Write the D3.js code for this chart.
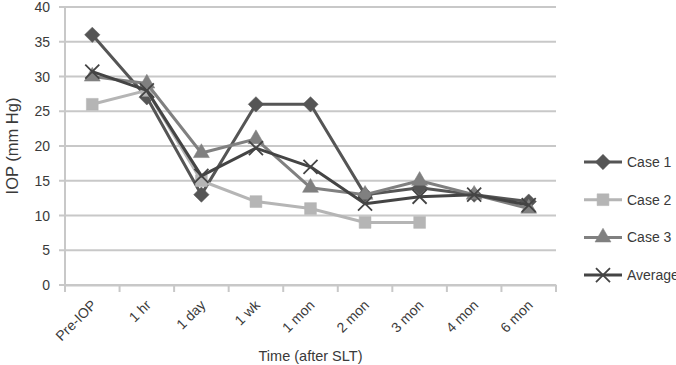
<!DOCTYPE html>
<html>
<head>
<meta charset="utf-8">
<title>IOP after SLT</title>
<style>
  body { margin: 0; background: #fff; }
  text { font-family: "Liberation Sans", Arial, sans-serif; fill: #3a3a3a; }
</style>
</head>
<body>
<script src="https://d3js.org/d3.v7.min.js"></script>
<script>
// data
var times = ["Pre-IOP", "1 hr", "1 day", "1 wk", "1 mon", "2 mon", "3 mon", "4 mon", "6 mon"];
var case1 = [36, 27, 13, 26, 26, 13, 14, 13, 12];
var case2 = [26, 28, 15, 12, 11, 9, 9, null, null];
var case3 = [30, 29, 19, 21, 14, 13, 15, 13, 11];
var average = [30.7, 28, 15.7, 19.7, 17, 11.7, 12.7, 13, 11.5];
var seriesNames = ["Case 1", "Case 2", "Case 3", "Average"];
var yTicks = [0, 5, 10, 15, 20, 25, 30, 35, 40];

var series = [
  { name: seriesNames[0], values: case1, color: "#555555", symbol: d3.symbolDiamond2 || d3.symbolDiamond, size: 150 },
  { name: seriesNames[1], values: case2, color: "#b5b5b5", symbol: d3.symbolSquare, size: 140 },
  { name: seriesNames[2], values: case3, color: "#808080", symbol: d3.symbolTriangle, size: 110 },
  { name: seriesNames[3], values: average, color: "#444444", symbol: d3.symbolX, size: 130 }
];

var width = 676, height = 365;
var plot = { left: 65, right: 556, top: 7, bottom: 285 };

var svg = d3.select("body").append("svg")
    .attr("width", width)
    .attr("height", height);

var x = d3.scaleBand().domain(times).range([plot.left, plot.right]);
var y = d3.scaleLinear().domain([0, 40]).range([plot.bottom, plot.top]);

// gridlines
svg.append("g")
    .selectAll("line")
    .data(yTicks)
    .enter().append("line")
    .attr("x1", plot.left - 6)
    .attr("x2", plot.right)
    .attr("y1", function(d) { return y(d); })
    .attr("y2", function(d) { return y(d); })
    .style("stroke", "#c8c8c8")
    .style("stroke-width", 2);

// y tick labels
svg.append("g")
    .selectAll("text")
    .data(yTicks)
    .enter().append("text")
    .attr("x", plot.left - 15)
    .attr("y", function(d) { return y(d) + 5; })
    .attr("text-anchor", "end")
    .style("font-size", "14px")
    .text(function(d) { return d; });

// left axis line
svg.append("line")
    .attr("x1", plot.left).attr("x2", plot.left)
    .attr("y1", plot.top).attr("y2", plot.bottom)
    .style("stroke", "#c8c8c8").style("stroke-width", 2);

// x axis
var xAxis = svg.append("g")
    .attr("transform", "translate(0," + plot.bottom + ")")
    .call(d3.axisBottom(x).tickSize(0).tickFormat(""));
xAxis.select(".domain").style("stroke", "#c8c8c8").style("stroke-width", 2);

// tick marks between categories
var bounds = times.map(function(t) { return x(t); }).concat([plot.right]);
svg.append("g")
    .selectAll("line")
    .data(bounds)
    .enter().append("line")
    .attr("x1", function(d) { return d; })
    .attr("x2", function(d) { return d; })
    .attr("y1", plot.bottom)
    .attr("y2", plot.bottom + 7)
    .style("stroke", "#c8c8c8")
    .style("stroke-width", 2);

// rotated category labels
svg.append("g")
    .selectAll("text")
    .data(times)
    .enter().append("text")
    .attr("transform", function(d) {
        return "translate(" + (x(d) + x.bandwidth() / 2 + 5) + "," + (plot.bottom + 21) + ") rotate(-45)";
    })
    .attr("text-anchor", "end")
    .style("font-size", "14px")
    .text(function(d) { return d; });

// axis titles
svg.append("text")
    .attr("transform", "translate(18," + 146 + ") rotate(-90)")
    .attr("text-anchor", "middle")
    .style("font-size", "16.5px")
    .text("IOP (mm Hg)");

svg.append("text")
    .attr("x", (plot.left + plot.right) / 2)
    .attr("y", 361)
    .attr("text-anchor", "middle")
    .style("font-size", "14.5px")
    .text("Time (after SLT)");

var line = d3.line()
    .defined(function(d) { return d != null; })
    .x(function(d, i) { return x(times[i]) + x.bandwidth() / 2; })
    .y(function(d) { return y(d); });

function marker(g, s) {
    var isX = s.symbol === d3.symbolX;
    return g.append("path")
        .attr("d", d3.symbol().type(s.symbol).size(s.size))
        .style("fill", isX ? "none" : s.color)
        .style("stroke", s.color)
        .style("stroke-width", isX ? 1.8 : 0.5);
}

series.forEach(function(s) {
    svg.append("path")
        .datum(s.values)
        .attr("d", line)
        .style("fill", "none")
        .style("stroke", s.color)
        .style("stroke-width", 3)
        .style("stroke-linejoin", "round");

    s.values.forEach(function(v, i) {
        if (v == null) return;
        var g = svg.append("g")
            .attr("transform", "translate(" + (x(times[i]) + x.bandwidth() / 2) + "," + y(v) + ")");
        marker(g, s);
    });
});

// legend
var legend = svg.append("g");
series.forEach(function(s, i) {
    var ly = 162 + i * 37.7;
    legend.append("line")
        .attr("x1", 584).attr("x2", 622)
        .attr("y1", ly).attr("y2", ly)
        .style("stroke", s.color)
        .style("stroke-width", 3);
    var g = legend.append("g").attr("transform", "translate(603," + ly + ")");
    marker(g, s);
    legend.append("text")
        .attr("x", 627)
        .attr("y", ly + 5)
        .style("font-size", "14px")
        .text(s.name);
});
</script>
</body>
</html>
